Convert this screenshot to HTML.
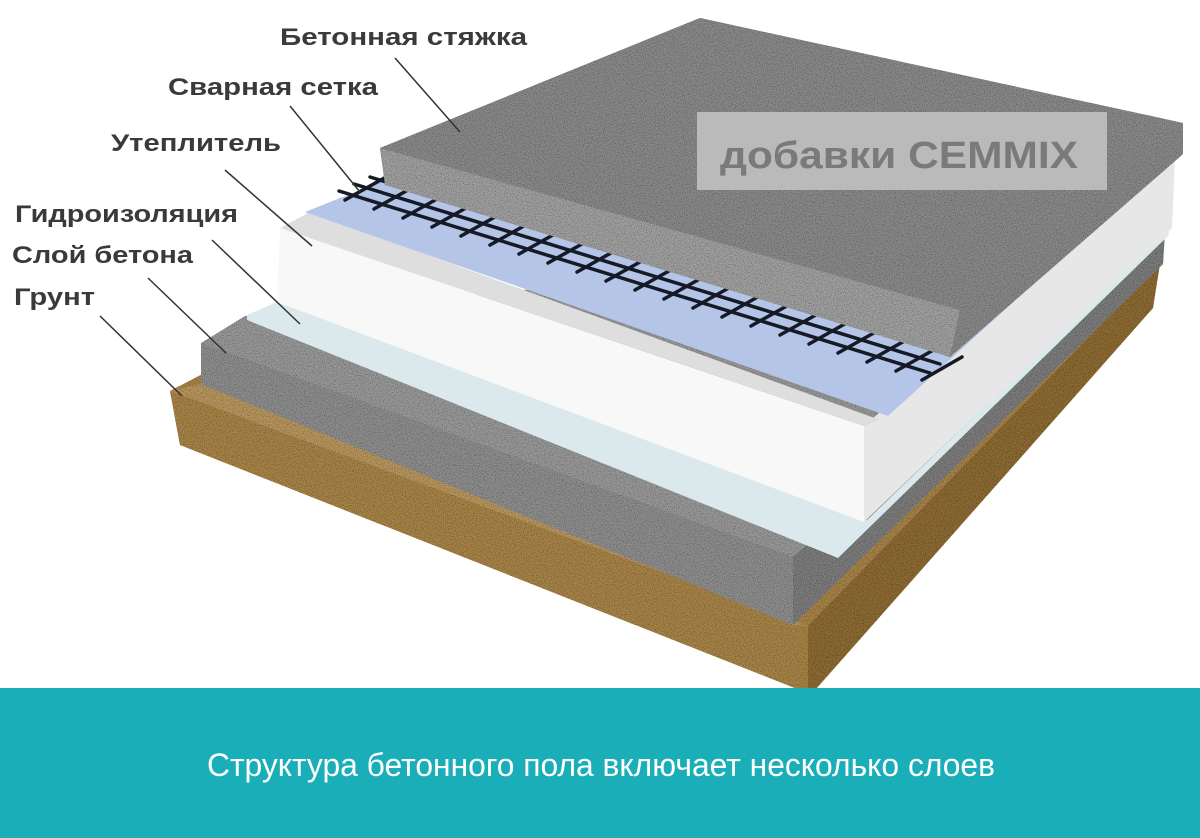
<!DOCTYPE html>
<html><head><meta charset="utf-8"><style>
html,body{margin:0;padding:0;background:#fff;}
svg{display:block}
</style></head><body>
<svg width="1200" height="838" viewBox="0 0 1200 838" xmlns="http://www.w3.org/2000/svg">
<defs>
<filter id="spk" x="0" y="0" width="100%" height="100%">
<feTurbulence type="fractalNoise" baseFrequency="0.9" numOctaves="2" seed="3" result="n"/>
<feColorMatrix in="n" type="matrix" values="0 0 0 0 0  0 0 0 0 0  0 0 0 0 0  0 0 0 1.4 -0.55" result="a"/>
<feComposite in="a" in2="SourceGraphic" operator="in" result="m"/>
<feMerge><feMergeNode in="SourceGraphic"/><feMergeNode in="m"/></feMerge>
</filter>
</defs>
<rect width="1200" height="838" fill="#fff"/>
<g filter="url(#spk)">
<!-- Ground -->
<polygon points="170,391 210,370 1158,262 1153,308 815,690 800,690 180,445" fill="#a8844a"/>
<polygon points="170,391 808,626 808,690 800,690 180,445" fill="#a98548"/>
<polygon points="808,626 1160,264 1153,308 815,690 808,690" fill="#8e6c36"/>
<polygon points="170,391 201,384 793,625 808,626" fill="#b9975e"/>
<!-- Concrete -->
<polygon points="201,343 245,316 1165,230 1163,264 793,625 201,384" fill="#9a9a9a"/>
<polygon points="201,343 793,557 793,625 201,384" fill="#8f8f8f"/>
<polygon points="793,557 1165,231 1163,264 793,625" fill="#7e7e7e"/>
</g>
<!-- Waterproofing -->
<polygon points="247,315 277,302 867,520 1170,228 1168,236 838,558 247,320" fill="#dbe9ec"/>
<!-- Insulation -->
<polygon points="280,228 864,426 864,522 277,302" fill="#f8f8f8"/>
<polygon points="864,426 1175,158 1172,228 864,522" fill="#e7e7e7"/>
<polygon points="280,228 310,212 880,420 864,426" fill="#dedede"/>
<polygon points="305,212 390,178 1175,155 888,416" fill="#b5c5e8"/>
<!-- Mesh -->
<g stroke="#151a26" stroke-width="3.5" fill="none" stroke-linecap="round">
<line x1="339" y1="191" x2="930" y2="373"/>
<line x1="354" y1="184" x2="940" y2="364"/>
<line x1="370" y1="177" x2="950" y2="355"/>
<line x1="345" y1="200" x2="395" y2="172"/>
<line x1="374" y1="209" x2="424" y2="181"/>
<line x1="403" y1="218" x2="453" y2="190"/>
<line x1="432" y1="227" x2="482" y2="199"/>
<line x1="461" y1="236" x2="511" y2="208"/>
<line x1="490" y1="245" x2="540" y2="217"/>
<line x1="519" y1="254" x2="569" y2="226"/>
<line x1="548" y1="263" x2="598" y2="235"/>
<line x1="577" y1="272" x2="627" y2="244"/>
<line x1="606" y1="281" x2="656" y2="253"/>
<line x1="635" y1="290" x2="685" y2="262"/>
<line x1="664" y1="299" x2="714" y2="271"/>
<line x1="693" y1="308" x2="743" y2="280"/>
<line x1="722" y1="317" x2="772" y2="289"/>
<line x1="751" y1="326" x2="801" y2="298"/>
<line x1="780" y1="335" x2="830" y2="307"/>
<line x1="809" y1="344" x2="859" y2="316"/>
<line x1="838" y1="353" x2="888" y2="325"/>
<line x1="867" y1="362" x2="917" y2="334"/>
<line x1="896" y1="371" x2="946" y2="343"/>
<line x1="922" y1="380" x2="962" y2="357"/>
</g>
<!-- Screed -->
<g filter="url(#spk)">
<polygon points="380,148 700,18 1183,123 1183,154 950,357 385,185" fill="#8c8c8c"/>
<polygon points="380,148 960,310 950,357 385,185" fill="#a2a2a2"/>
<polygon points="960,310 1183,123 1183,154 950,357" fill="#8a8a8a"/>
<polygon points="380,148 700,18 1183,123 960,310" fill="#8b8b8b"/>
</g>
<!-- Watermark -->
<rect x="697" y="112" width="410" height="78" fill="#c4c4c4" opacity="0.85"/>
<text x="720" y="168" font-family="Liberation Sans, sans-serif" font-weight="bold" font-size="38" fill="#7a7a7a" textLength="358" lengthAdjust="spacingAndGlyphs">добавки CEMMIX</text>
<!-- Labels -->
<g font-family="Liberation Sans, sans-serif" font-weight="bold" font-size="24" fill="#3a3a3a">
<text x="280" y="45" textLength="247" lengthAdjust="spacingAndGlyphs">Бетонная стяжка</text>
<text x="168" y="95" textLength="210" lengthAdjust="spacingAndGlyphs">Сварная сетка</text>
<text x="111" y="151" textLength="170" lengthAdjust="spacingAndGlyphs">Утеплитель</text>
<text x="15" y="222" textLength="223" lengthAdjust="spacingAndGlyphs">Гидроизоляция</text>
<text x="12" y="263" textLength="181" lengthAdjust="spacingAndGlyphs">Слой бетона</text>
<text x="14" y="305" textLength="81" lengthAdjust="spacingAndGlyphs">Грунт</text>
</g>
<g stroke="#333" stroke-width="1.5">
<line x1="395" y1="58" x2="460" y2="132"/>
<line x1="290" y1="106" x2="360" y2="192"/>
<line x1="225" y1="170" x2="312" y2="246"/>
<line x1="212" y1="240" x2="300" y2="324"/>
<line x1="148" y1="278" x2="226" y2="353"/>
<line x1="100" y1="316" x2="182" y2="396"/>
</g>
<!-- Caption band -->
<rect x="0" y="688" width="1200" height="150" fill="#1aaeb9"/>
<text x="207" y="776" font-family="Liberation Sans, sans-serif" font-size="32" fill="#fff" textLength="788" lengthAdjust="spacingAndGlyphs">Структура бетонного пола включает несколько слоев</text>
</svg>
</body></html>
